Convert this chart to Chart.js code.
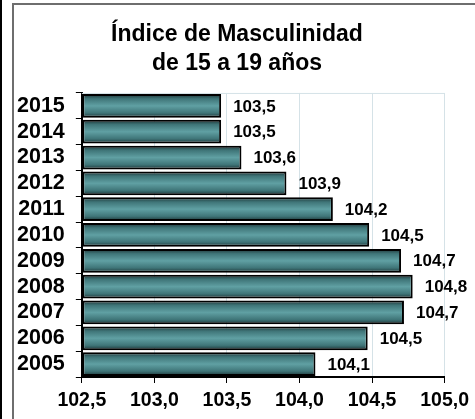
<!DOCTYPE html>
<html>
<head>
<meta charset="utf-8">
<script src="https://cdn.jsdelivr.net/npm/chart.js@4/dist/chart.umd.min.js"></script>
<style>
  html, body { margin: 0; padding: 0; background: #fff; }
  #edge { position: absolute; left: 0; top: 0; width: 2px; height: 419px; background: #000; }
  #frame { position: absolute; left: 12px; top: 3px; width: 470px; height: 420px;
           border-left: 2px solid #6e6e6e; border-top: 2px solid #6e6e6e; }
  #chart { position: absolute; left: 0; top: 0; }
</style>
</head>
<body>
<div id="edge"></div>
<div id="frame"></div>
<canvas id="chart" width="475" height="419"></canvas>
<script>
const years = ["2005", "2006", "2007", "2008", "2009", "2010", "2011", "2012", "2013", "2014", "2015"];
const indexValues = [104.11, 104.47, 104.72, 104.78, 104.70, 104.48, 104.23, 103.91, 103.60, 103.46, 103.46];
const titleLines = ["Índice de Masculinidad", "de 15 a 19 años"];
const xMin = 102.5;
const xMax = 105.0;

const FONT = "'Liberation Sans', Arial, sans-serif";
const fmt = v => Number(v).toFixed(1).replace(".", ",");
const BAR_PCT = 0.92;

// vertical gradient for each bar, built from the y scale position
function barFill(ctx) {
  const chart = ctx.chart;
  const y = chart.scales && chart.scales.y;
  if (ctx.type !== "data" || !y) return "#5e9ea1";
  const c = y.getPixelForValue(ctx.dataIndex);
  const h = (y.height / years.length) * BAR_PCT;
  if (!isFinite(c) || !isFinite(h) || h <= 0) return "#5e9ea1";
  const g = chart.ctx.createLinearGradient(0, c - h / 2, 0, c + h / 2);
  g.addColorStop(0, "#1c3133");
  g.addColorStop(0.2, "#3f7578");
  g.addColorStop(0.5, "#60a0a3");
  g.addColorStop(0.8, "#3f7578");
  g.addColorStop(1, "#1c3133");
  return g;
}

const valueLabels = {
  id: "valueLabels",
  afterDatasetsDraw(chart) {
    const ctx = chart.ctx;
    const meta = chart.getDatasetMeta(0);
    ctx.save();
    ctx.font = "bold 17px " + FONT;
    ctx.fillStyle = "#000";
    ctx.textBaseline = "middle";
    ctx.textAlign = "left";
    meta.data.forEach((bar, i) => {
      ctx.fillText(fmt(indexValues[i]), bar.x + 12, bar.y + 1);
    });
    ctx.restore();
  }
};

const topLine = {
  id: "topLine",
  beforeDatasetsDraw(chart) {
    const a = chart.chartArea;
    const ctx = chart.ctx;
    ctx.save();
    ctx.strokeStyle = "#d5e2e7";
    ctx.lineWidth = 1;
    ctx.beginPath();
    ctx.moveTo(a.left, a.top + 0.5);
    ctx.lineTo(a.right, a.top + 0.5);
    ctx.stroke();
    ctx.restore();
  }
};

new Chart(document.getElementById("chart"), {
  type: "bar",
  data: {
    labels: years,
    datasets: [{
      data: indexValues,
      base: xMin,
      backgroundColor: barFill,
      borderColor: "#000",
      borderWidth: 2,
      borderSkipped: false,
      barPercentage: BAR_PCT,
      categoryPercentage: 1
    }]
  },
  options: {
    indexAxis: "y",
    responsive: false,
    animation: false,
    devicePixelRatio: 1,
    layout: { padding: { left: 6, right: 7, top: 0, bottom: 0.6 } },
    plugins: {
      legend: { display: false },
      tooltip: { enabled: false },
      title: {
        display: true,
        text: titleLines,
        color: "#000",
        font: { family: FONT, size: 23, weight: "bold", lineHeight: 1.26 },
        padding: { top: 20, bottom: 15 }
      }
    },
    scales: {
      x: {
        min: xMin,
        max: xMax,
        ticks: {
          stepSize: 0.5,
          color: "#000",
          padding: 6,
          font: { family: FONT, size: 19.5, weight: "bold" },
          callback: v => fmt(v)
        },
        grid: { color: "#d5e2e7", tickColor: "#000", tickLength: 6, lineWidth: 1 },
        border: { color: "#000", width: 2 }
      },
      y: {
        reverse: true,
        ticks: {
          autoSkip: false,
          color: "#000",
          padding: 11,
          font: { family: FONT, size: 21.5, weight: "bold" }
        },
        grid: { offset: true, drawOnChartArea: false, tickColor: "#000", tickLength: 6 },
        border: { color: "#000", width: 2 }
      }
    }
  },
  plugins: [topLine, valueLabels]
});
</script>
</body>
</html>
